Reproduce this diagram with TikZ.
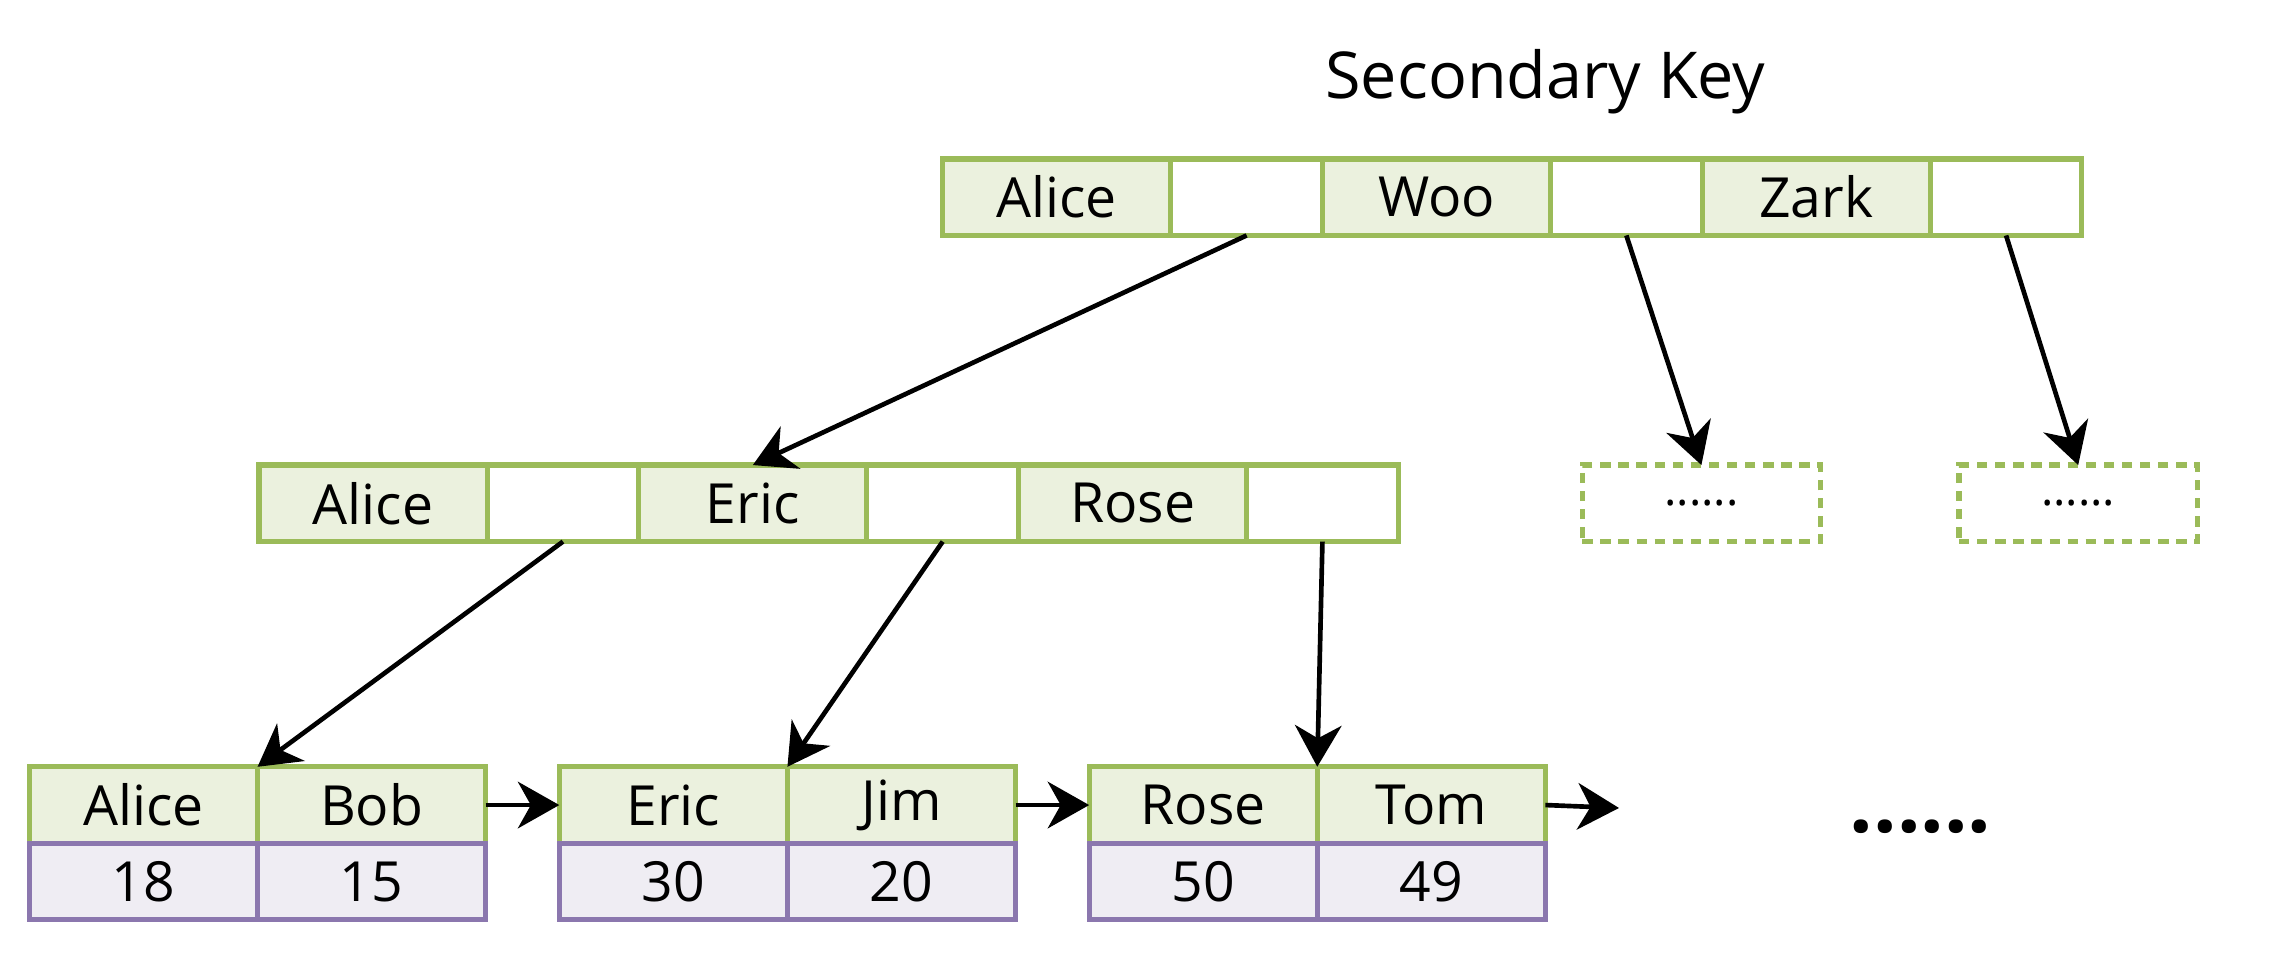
\documentclass[tikz,border=0pt]{standalone}
\usepackage{fontspec}
\setmainfont{Open Sans}
\usetikzlibrary{positioning,arrows.meta}
\definecolor{keyline}{HTML}{9BBB59}
\definecolor{keyfill}{HTML}{EBF1DE}
\definecolor{valline}{HTML}{8B77AE}
\definecolor{valfill}{HTML}{EFEDF3}
\begin{document}
\begin{tikzpicture}[node distance=0pt,
    every node/.style={outer sep=0pt, inner sep=0pt, font=\fontsize{10.7}{13}\selectfont},
    key/.style={draw=keyline, line width=1pt, fill=keyfill, minimum width=1.55cm, minimum height=0.52cm},
    ptr/.style={draw=keyline, line width=1pt, fill=white, minimum width=1.03cm, minimum height=0.52cm},
    val/.style={draw=valline, line width=1pt, fill=valfill, minimum width=1.55cm, minimum height=0.52cm},
    more/.style={draw=keyline, line width=1pt, dash pattern=on 2pt off 1.5pt, minimum width=1.62cm, minimum height=0.52cm},
    link/.style={-{Stealth[length=8pt,width=9pt,inset=2.5pt]}, line width=0.9pt}]
    \useasboundingbox (0,0) rectangle (15.6,6.48);
    \node [anchor=base, font=\fontsize{12.5}{15}\selectfont] (title) at (10.50,5.81) {Secondary Key};
    % root
    \node [key] (rA) at (7.18,5.14) {Alice};
    \node [ptr, right=of rA] (rAp) {};
    \node [key, right=of rAp] (rW) {Woo};
    \node [ptr, right=of rW] (rWp) {};
    \node [key, right=of rWp] (rZ) {Zark};
    \node [ptr, right=of rZ] (rZp) {};
    % middle
    \node [key] (mA) at (2.535,3.06) {Alice};
    \node [ptr, right=of mA] (mAp) {};
    \node [key, right=of mAp] (mE) {Eric};
    \node [ptr, right=of mE] (mEp) {};
    \node [key, right=of mEp] (mR) {Rose};
    \node [ptr, right=of mR] (mRp) {};
    \node [more, font=\fontsize{9}{10}\selectfont] (d1) at (11.56,3.06) {......};
    \node [more, font=\fontsize{9}{10}\selectfont] (d2) at (14.12,3.06) {......};
    % leaves
    \node [key] (l1a) at (0.975,1.01) {Alice};
    \node [key, right=of l1a] (l1b) {Bob};
    \node [val, below=of l1a] (l1c) {18};
    \node [val, below=of l1b] (l1d) {15};
    \node [key, right=0.5cm of l1b] (l2a) {Eric};
    \node [key, right=of l2a] (l2b) {Jim};
    \node [val, below=of l2a] (l2c) {30};
    \node [val, below=of l2b] (l2d) {20};
    \node [key, right=0.5cm of l2b] (l3a) {Rose};
    \node [key, right=of l3a] (l3b) {Tom};
    \node [val, below=of l3a] (l3c) {50};
    \node [val, below=of l3b] (l3d) {49};
    \coordinate (next) at (11.0,0.99);
    \node [font=\bfseries\fontsize{16}{18}\selectfont] (etc) at (13.05,0.86) {......};
    \draw [link] (rAp.south) -- (mE.north);
    \draw [link] (rWp.south) -- (d1.north);
    \draw [link] (rZp.south) -- (d2.north);
    \draw [link] (mAp.south) -- (l1a.north east);
    \draw [link] (mEp.south) -- (l2a.north east);
    \draw [link] (mRp.south) -- (l3a.north east);
    \draw [link] (l1b.east) -- (l2a.west);
    \draw [link] (l2b.east) -- (l3a.west);
    \draw [link] (l3b.east) -- (next);
\end{tikzpicture}
\end{document}
